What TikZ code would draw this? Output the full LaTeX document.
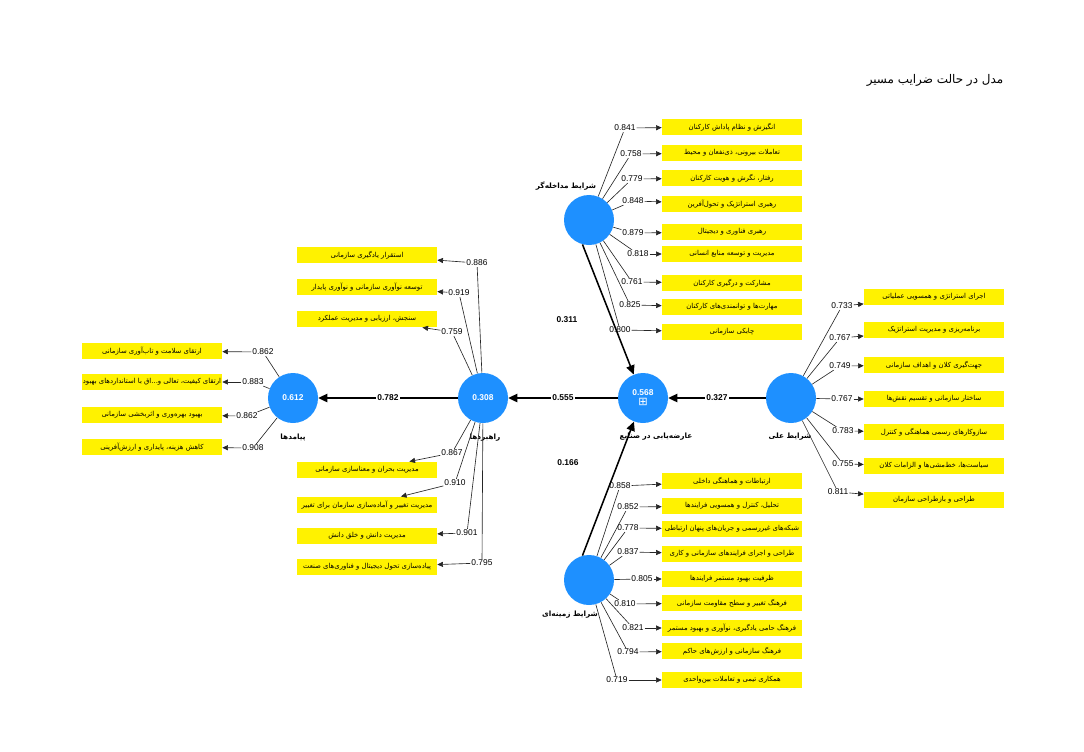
\documentclass[tikz,border=0pt]{standalone}
\usepackage{fontspec}
\setmainfont{Liberation Sans}
\newfontfamily\fa[Script=Arabic]{DejaVu Sans}
\TeXXeTstate=1
\usetikzlibrary{positioning,arrows.meta}
\definecolor{plsblue}{RGB}{30,144,255}
\tikzset{latent/.style={circle,fill=plsblue,minimum size=1.25cm,inner sep=0pt,align=center,text=white,font=\bfseries\fontsize{6}{7}\selectfont},
ind/.style={fill=yellow,minimum width=3.5cm,minimum height=0.41cm,inner sep=0pt,font=\fa\fontsize{4.9}{5}\selectfont},
loading/.style={inner sep=0.6pt,font=\fontsize{6}{6}\selectfont},
coef/.style={inner sep=1pt,font=\bfseries\fontsize{6}{7}\selectfont},
lvname/.style={font=\fa\bfseries\fontsize{5.2}{6}\selectfont},
}

\begin{document}
\begin{tikzpicture}[x=0.025cm,y=-0.025cm,>={Triangle[length=4pt,width=3.6pt]}]
	\useasboundingbox (0,0) rectangle (1084,751);
	\node[font=\fa\fontsize{8.5}{9}\selectfont] (title) at (935,80) {\beginR مدل در حالت ضرایب مسیر\endR};
	
	% latent variables
	\node[latent] (P) at (293,398) {0.612};
	\node[latent] (R) at (483,398) {0.308};
	\node[latent] (C) at (643,398) {0.568\\[0pt]{\fa\mdseries\fontsize{8}{8}\selectfont ⊞}};
	\node[latent] (A) at (791,398) {};
	\node[latent] (T) at (589,220) {};
	\node[latent] (B) at (589,580) {};
	\node[lvname] (Pn) at (293,438) {\beginR پیامدها\endR};
	\node[lvname] (Rn) at (485,438) {\beginR راهبردها\endR};
	\node[lvname] (Cn) at (656,437) {\beginR عارضه‌یابی در صنایع\endR};
	\node[lvname] (An) at (790,437) {\beginR شرایط علی\endR};
	\node[lvname] (Tn) at (566,186) {\beginR شرایط مداخله‌گر\endR};
	\node[lvname] (Bn) at (570,615) {\beginR شرایط زمینه‌ای\endR};
	
	% شرایط مداخله‌گر
	\node[ind] (t1) at (732,127) {\beginR انگیزش و نظام پاداش کارکنان\endR};
	\node[ind] (t2) at (732,153) {\beginR تعاملات بیرونی، ذی‌نفعان و محیط\endR};
	\node[ind] (t3) at (732,178) {\beginR رفتار، نگرش و هویت کارکنان\endR};
	\node[ind] (t4) at (732,204) {\beginR رهبری استراتژیک و تحول‌آفرین\endR};
	\node[ind] (t5) at (732,232) {\beginR رهبری فناوری و دیجیتال\endR};
	\node[ind] (t6) at (732,254) {\beginR مدیریت و توسعه منابع انسانی\endR};
	\node[ind] (t7) at (732,283) {\beginR مشارکت و درگیری کارکنان\endR};
	\node[ind] (t8) at (732,307) {\beginR مهارت‌ها و توانمندی‌های کارکنان\endR};
	\node[ind] (t9) at (732,332) {\beginR چابکی سازمانی\endR};
	\node[loading] (lt1) at (625,128) {0.841};
	\node[loading] (lt2) at (631,154) {0.758};
	\node[loading] (lt3) at (632,179) {0.779};
	\node[loading] (lt4) at (633,201) {0.848};
	\node[loading] (lt5) at (633,233) {0.879};
	\node[loading] (lt6) at (638,254) {0.818};
	\node[loading] (lt7) at (632,282) {0.761};
	\node[loading] (lt8) at (630,305) {0.825};
	\node[loading] (lt9) at (620,330) {0.800};
	
	% شرایط علی
	\node[ind] (a1) at (934,297) {\beginR اجرای استراتژی و همسویی عملیاتی\endR};
	\node[ind] (a2) at (934,330) {\beginR برنامه‌ریزی و مدیریت استراتژیک\endR};
	\node[ind] (a3) at (934,365) {\beginR جهت‌گیری کلان و اهداف سازمانی\endR};
	\node[ind] (a4) at (934,399) {\beginR ساختار سازمانی و تقسیم نقش‌ها\endR};
	\node[ind] (a5) at (934,432) {\beginR سازوکارهای رسمی هماهنگی و کنترل\endR};
	\node[ind] (a6) at (934,466) {\beginR سیاست‌ها، خط‌مشی‌ها و الزامات کلان\endR};
	\node[ind] (a7) at (934,500) {\beginR طراحی و بازطراحی سازمان\endR};
	\node[loading] (la1) at (842,306) {0.733};
	\node[loading] (la2) at (840,338) {0.767};
	\node[loading] (la3) at (840,366) {0.749};
	\node[loading] (la4) at (842,399) {0.767};
	\node[loading] (la5) at (843,431) {0.783};
	\node[loading] (la6) at (843,464) {0.755};
	\node[loading] (la7) at (838,492) {0.811};
	
	% شرایط زمینه‌ای
	\node[ind] (b1) at (732,481) {\beginR ارتباطات و هماهنگی داخلی\endR};
	\node[ind] (b2) at (732,506) {\beginR تحلیل، کنترل و همسویی فرایندها\endR};
	\node[ind] (b3) at (732,529) {\beginR شبکه‌های غیررسمی و جریان‌های پنهان ارتباطی\endR};
	\node[ind] (b4) at (732,554) {\beginR طراحی و اجرای فرایندهای سازمانی و کاری\endR};
	\node[ind] (b5) at (732,579) {\beginR ظرفیت بهبود مستمر فرایندها\endR};
	\node[ind] (b6) at (732,603) {\beginR فرهنگ تغییر و سطح مقاومت سازمانی\endR};
	\node[ind] (b7) at (732,628) {\beginR فرهنگ حامی یادگیری، نوآوری و بهبود مستمر\endR};
	\node[ind] (b8) at (732,651) {\beginR فرهنگ سازمانی و ارزش‌های حاکم\endR};
	\node[ind] (b9) at (732,680) {\beginR همکاری تیمی و تعاملات بین‌واحدی\endR};
	\node[loading] (lb1) at (620,486) {0.858};
	\node[loading] (lb2) at (628,507) {0.852};
	\node[loading] (lb3) at (628,528) {0.778};
	\node[loading] (lb4) at (628,552) {0.837};
	\node[loading] (lb5) at (642,579) {0.805};
	\node[loading] (lb6) at (625,604) {0.810};
	\node[loading] (lb7) at (633,628) {0.821};
	\node[loading] (lb8) at (628,652) {0.794};
	\node[loading] (lb9) at (617,680) {0.719};
	
	% راهبردها
	\node[ind] (r1) at (367,255) {\beginR استقرار یادگیری سازمانی\endR};
	\node[ind] (r2) at (367,287) {\beginR توسعه نوآوری سازمانی و نوآوری پایدار\endR};
	\node[ind] (r3) at (367,319) {\beginR سنجش، ارزیابی و مدیریت عملکرد\endR};
	\node[ind] (r4) at (367,470) {\beginR مدیریت بحران و معناسازی سازمانی\endR};
	\node[ind] (r5) at (367,505) {\beginR مدیریت تغییر و آماده‌سازی سازمان برای تغییر\endR};
	\node[ind] (r6) at (367,536) {\beginR مدیریت دانش و خلق دانش\endR};
	\node[ind] (r7) at (367,567) {\beginR پیاده‌سازی تحول دیجیتال و فناوری‌های صنعت\endR};
	\node[loading] (lr1) at (477,263) {0.886};
	\node[loading] (lr2) at (459,293) {0.919};
	\node[loading] (lr3) at (452,332) {0.759};
	\node[loading] (lr4) at (452,453) {0.867};
	\node[loading] (lr5) at (455,483) {0.910};
	\node[loading] (lr6) at (467,533) {0.901};
	\node[loading] (lr7) at (482,563) {0.795};
	
	% پیامدها
	\node[ind] (p1) at (152,351) {\beginR ارتقای سلامت و تاب‌آوری سازمانی\endR};
	\node[ind] (p2) at (152,382) {\beginR ارتقای کیفیت، تعالی و...اق با استانداردهای بهبود\endR};
	\node[ind] (p3) at (152,415) {\beginR بهبود بهره‌وری و اثربخشی سازمانی\endR};
	\node[ind] (p4) at (152,447) {\beginR کاهش هزینه، پایداری و ارزش‌آفرینی\endR};
	\node[loading] (lp1) at (263,352) {0.862};
	\node[loading] (lp2) at (253,382) {0.883};
	\node[loading] (lp3) at (247,416) {0.862};
	\node[loading] (lp4) at (253,448) {0.908};
	
	% outer loadings
	\path[draw,black!85,line width=0.45pt]
	(T) edge (lt1) (lt1) edge[->] (t1)
	(T) edge (lt2) (lt2) edge[->] (t2)
	(T) edge (lt3) (lt3) edge[->] (t3)
	(T) edge (lt4) (lt4) edge[->] (t4)
	(T) edge (lt5) (lt5) edge[->] (t5)
	(T) edge (lt6) (lt6) edge[->] (t6)
	(T) edge (lt7) (lt7) edge[->] (t7)
	(T) edge (lt8) (lt8) edge[->] (t8)
	(T) edge (lt9) (lt9) edge[->] (t9)
	(A) edge (la1) (la1) edge[->] (a1)
	(A) edge (la2) (la2) edge[->] (a2)
	(A) edge (la3) (la3) edge[->] (a3)
	(A) edge (la4) (la4) edge[->] (a4)
	(A) edge (la5) (la5) edge[->] (a5)
	(A) edge (la6) (la6) edge[->] (a6)
	(A) edge (la7) (la7) edge[->] (a7)
	(B) edge (lb1) (lb1) edge[->] (b1)
	(B) edge (lb2) (lb2) edge[->] (b2)
	(B) edge (lb3) (lb3) edge[->] (b3)
	(B) edge (lb4) (lb4) edge[->] (b4)
	(B) edge (lb5) (lb5) edge[->] (b5)
	(B) edge (lb6) (lb6) edge[->] (b6)
	(B) edge (lb7) (lb7) edge[->] (b7)
	(B) edge (lb8) (lb8) edge[->] (b8)
	(B) edge (lb9) (lb9) edge[->] (b9)
	(R) edge (lr1) (lr1) edge[->] (r1)
	(R) edge (lr2) (lr2) edge[->] (r2)
	(R) edge (lr3) (lr3) edge[->] (r3)
	(R) edge (lr4) (lr4) edge[->] (r4)
	(R) edge (lr5) (lr5) edge[->] (r5)
	(R) edge (lr6) (lr6) edge[->] (r6)
	(R) edge (lr7) (lr7) edge[->] (r7)
	(P) edge (lp1) (lp1) edge[->] (p1)
	(P) edge (lp2) (lp2) edge[->] (p2)
	(P) edge (lp3) (lp3) edge[->] (p3)
	(P) edge (lp4) (lp4) edge[->] (p4);
	
	% path coefficients
	\path[draw,line width=1.1pt,>={Triangle[length=6.5pt,width=6pt]}]
	(R) edge[->] node[coef,fill=white] {0.782} (P)
	(C) edge[->] node[coef,fill=white] {0.555} (R)
	(A) edge[->] node[coef,fill=white] {0.327} (C)
	(T.255) edge[->] (C)
	(B.105) edge[->] (C);
	\node[coef] (cT) at (567,320) {0.311};
	\node[coef] (cB) at (568,463) {0.166};
\end{tikzpicture}
\end{document}
